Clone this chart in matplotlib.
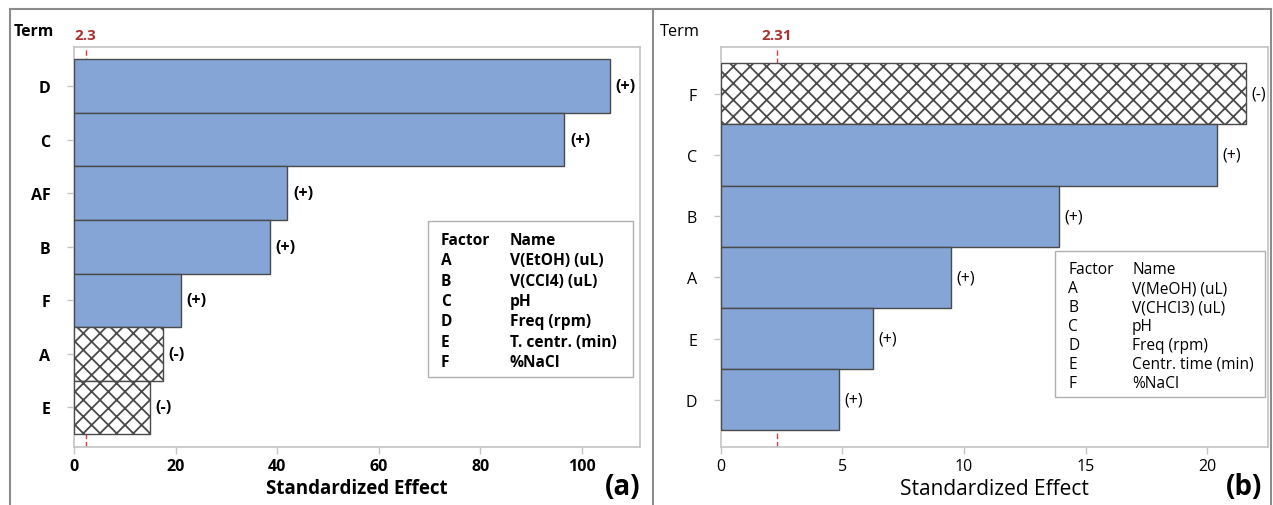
import matplotlib
matplotlib.use("Agg")
import matplotlib.pyplot as plt
from matplotlib.patches import Rectangle
from matplotlib.lines import Line2D

plt.rcParams['font.family'] = ['Open Sans', 'DejaVu Sans']
plt.rcParams['hatch.linewidth'] = 1.3

# panel (a) data, top to bottom
terms_a = ['D', 'C', 'AF', 'B', 'F', 'A', 'E']
effects_a = [105.5, 96.5, 42.0, 38.5, 21.0, 17.5, 15.0]
signs_a = ['+', '+', '+', '+', '+', '-', '-']
crit_a = 2.3
factors_a = ['A', 'B', 'C', 'D', 'E', 'F']
names_a = ['V(EtOH) (uL)', 'V(CCl4) (uL)', 'pH', 'Freq (rpm)', 'T. centr. (min)', '%NaCl']

# panel (b) data, top to bottom
terms_b = ['F', 'C', 'B', 'A', 'E', 'D']
effects_b = [21.6, 20.4, 13.9, 9.45, 6.25, 4.85]
signs_b = ['-', '+', '+', '+', '+', '+']
crit_b = 2.31
factors_b = ['A', 'B', 'C', 'D', 'E', 'F']
names_b = ['V(MeOH) (uL)', 'V(CHCl3) (uL)', 'pH', 'Freq (rpm)', 'Centr. time (min)', '%NaCl']

BLUE = '#84a5d6'
EDGE = '#4a4a4a'
SPINE = '#c4c4c4'
RED = '#e03c3c'
DARKRED = '#a83232'

W, H = 1273, 506
fig = plt.figure(figsize=(W / 100, H / 100), dpi=100)


def fx(px):
    return px / W


def fy(py):
    return 1 - py / H


def panel(rect, terms, effects, signs, crit, crit_lbl, xmax, xticks, weight,
          margin, legend_box, factors, names, xlabel_size, name_dx):
    ax = fig.add_axes(rect)
    n = len(terms)
    ys = list(range(n))[::-1]
    for y, e, s in zip(ys, effects, signs):
        if s == '+':
            ax.barh(y, e, height=1.0, color=BLUE, edgecolor=EDGE, linewidth=1.0, zorder=3)
        else:
            ax.barh(y, e, height=1.0, color='white', edgecolor=EDGE, hatch='xx',
                    linewidth=1.0, zorder=3)
        ax.text(e + xmax * 0.01, y, '(%s)' % s, va='center', ha='left',
                fontsize=11.5, fontweight=weight, color='black', zorder=4)
    ax.axvline(crit, color=RED, ls=(0, (4, 2)), lw=1.0, zorder=1)
    ax.set_xlim(0, xmax)
    ax.set_ylim(-0.5 - margin, n - 0.5 + margin)
    ax.set_yticks(ys)
    ax.set_yticklabels(terms, fontweight=weight, fontsize=11.5)
    ax.set_xticks(xticks)
    ax.set_xticklabels([str(t) for t in xticks], fontweight=weight, fontsize=11.5)
    for sp in ax.spines.values():
        sp.set_color(SPINE)
        sp.set_linewidth(1.2)
    ax.tick_params(axis='both', colors=SPINE, labelcolor='black', length=5, width=1)
    ax.tick_params(axis='y', pad=12)
    ax.tick_params(axis='x', pad=3)
    ax.set_xlabel('Standardized Effect', fontsize=xlabel_size, fontweight=weight, labelpad=3)
    ax.text(crit, 1.01, crit_lbl, transform=ax.get_xaxis_transform(), ha='center',
            va='bottom', color=DARKRED, fontsize=11, fontweight='bold')

    # factor table
    x0, y0, x1, y1 = legend_box
    fig.add_artist(Rectangle((fx(x0), fy(y1)), fx(x1 - x0), (y1 - y0) / H,
                             transform=fig.transFigure, facecolor='white',
                             edgecolor='#b0b0b0', lw=1.0, zorder=5))
    rows = [('Factor', 'Name')] + list(zip(factors, names))
    step = (y1 - y0 - 14) / len(rows)
    for i, (f, nm) in enumerate(rows):
        yy = y0 + 9 + step * (i + 0.5)
        fig.text(fx(x0 + 13), fy(yy), f, fontsize=11.2, fontweight=weight, va='center', zorder=6)
        fig.text(fx(x0 + name_dx), fy(yy), nm, fontsize=11.2, fontweight=weight,
                 va='center', zorder=6)
    return ax


ax_a = panel([fx(74), fy(448), fx(639.5 - 74), (448 - 47.5) / H],
             terms_a, effects_a, signs_a, crit_a, '2.3', 111.3,
             [0, 20, 40, 60, 80, 100], 'bold', 0.24,
             (428, 222, 633, 378), factors_a, names_a, 13.5, 82)
ax_b = panel([fx(720.7), fy(448), fx(1268 - 720.7), (448 - 47.5) / H],
             terms_b, effects_b, signs_b, crit_b, '2.31', 22.5,
             [0, 5, 10, 15, 20], 'normal', 0.27,
             (1055, 252, 1265, 398), factors_b, names_b, 15, 77)

fig.text(fx(14), fy(32), 'Term', fontsize=11.3, fontweight='bold', va='center')
fig.text(fx(660), fy(32), 'Term', fontsize=11.8, va='center')
fig.text(fx(641), fy(488), '(a)', fontsize=20, fontweight='bold', ha='right', va='center')
fig.text(fx(1262), fy(488), '(b)', fontsize=20, fontweight='bold', ha='right', va='center')

# outer frame with divider
frame = '#8c8c8c'
for xs, ys in [((10, 1271), (10, 10)), ((10, 10), (10, 506)), ((653, 653), (10, 506)),
               ((1271, 1271), (10, 506))]:
    fig.add_artist(Line2D([fx(xs[0]), fx(xs[1])], [fy(ys[0]), fy(ys[1])],
                          transform=fig.transFigure, color=frame, lw=1.5))

fig.savefig('out.png', dpi=100)
